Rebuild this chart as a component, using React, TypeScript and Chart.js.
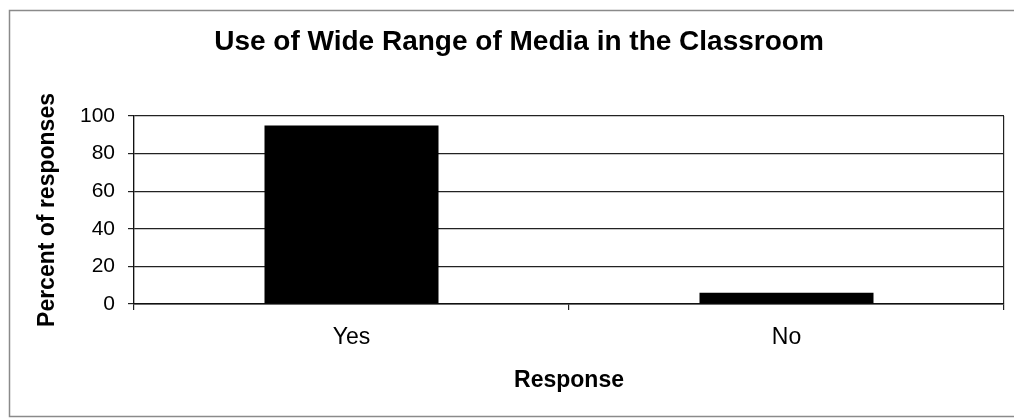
import React, { useEffect, useRef } from "react";
import { Chart, registerables } from "chart.js";

Chart.register(...registerables);

const categories = ["Yes", "No"];
const percentValues = [95, 6];
const yTicks = [0, 20, 40, 60, 80, 100];
const chartTitle = "Use of Wide Range of Media in the Classroom";

const FONT = "'Liberation Sans', Arial, sans-serif";

const framePlugin = {
  id: "frame",
  beforeDraw(chart: any) {
    const { ctx } = chart;
    ctx.save();
    ctx.fillStyle = "#ffffff";
    ctx.fillRect(0, 0, chart.width, chart.height);
    ctx.strokeStyle = "#8a8a8a";
    ctx.lineWidth = 1.5;
    ctx.strokeRect(9.5, 10.5, 1010, 406);
    ctx.restore();
  },
  afterDraw(chart: any) {
    const { ctx } = chart;
    ctx.save();
    ctx.fillStyle = "#000";
    ctx.font = `bold 28px ${FONT}`;
    ctx.textAlign = "center";
    ctx.textBaseline = "middle";
    ctx.fillText(chartTitle, 519, 42);
    ctx.restore();
  },
};

export default function App() {
  const ref = useRef<HTMLCanvasElement | null>(null);

  useEffect(() => {
    if (!ref.current) return;
    const chart = new Chart(ref.current, {
      type: "bar",
      data: {
        labels: categories,
        datasets: [
          {
            data: percentValues,
            backgroundColor: "#000000",
            borderWidth: 0,
            barPercentage: 0.4,
            categoryPercentage: 1,
          },
        ],
      },
      options: {
        animation: false,
        responsive: false,
        maintainAspectRatio: false,
        layout: { padding: { left: 0, right: 10, top: 116, bottom: 0 } },
        plugins: {
          legend: { display: false },
          tooltip: { enabled: false },
          title: { display: false },
        },
        scales: {
          x: {
            offset: true,
            grid: {
              offset: true,
              drawOnChartArea: true,
              drawTicks: true,
              tickLength: 6,
              color: (ctx: any) => (ctx.index === 1 ? "rgba(0,0,0,0)" : "#222"),
              tickColor: "#222",
              lineWidth: 1.2,
            },
            border: { display: true, color: "#111", width: 1.5 },
            ticks: {
              color: "#000",
              font: { family: FONT, size: 23 },
              padding: 14,
            },
            title: {
              display: true,
              text: "Response",
              color: "#000",
              font: { family: FONT, size: 23, weight: "bold" },
              padding: { top: 0, bottom: 25 },
            },
            afterFit: (scale: any) => {
              scale.height = 115;
            },
          },
          y: {
            min: 0,
            max: 100,
            afterBuildTicks: (scale: any) => {
              scale.ticks = yTicks.map((v) => ({ value: v }));
            },
            grid: {
              color: "#222",
              tickColor: "#222",
              tickLength: 6,
              lineWidth: 1.2,
            },
            border: { display: true, color: "#111", width: 1.2 },
            ticks: {
              color: "#000",
              font: { family: FONT, size: 21 },
              padding: 13,
            },
            title: {
              display: true,
              text: "Percent of responses",
              color: "#000",
              font: { family: FONT, size: 23, weight: "bold" },
              padding: { top: 34, bottom: 0 },
            },
            afterFit: (scale: any) => {
              scale.width = 134;
            },
          },
        },
      },
      plugins: [framePlugin],
    });
    return () => chart.destroy();
  }, []);

  return (
    <div style={{ position: "absolute", left: 0, top: 0, width: 1014, height: 419 }}>
      <canvas ref={ref} width={1014} height={419} />
    </div>
  );
}
